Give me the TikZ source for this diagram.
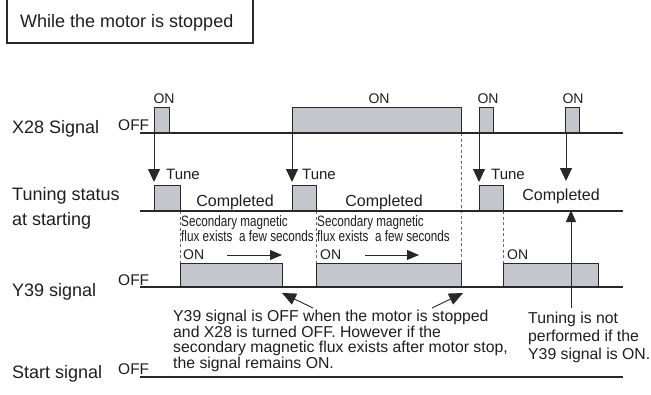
\documentclass[tikz,border=0pt]{standalone}
\usepackage{fontspec}
\setmainfont{Liberation Sans}
\newfontfamily\narrowfont[FakeStretch=0.78]{Liberation Sans}
\usetikzlibrary{arrows.meta}
\definecolor{signalgray}{RGB}{195,198,205}
\definecolor{signalline}{RGB}{40,40,40}
\definecolor{guidegray}{RGB}{105,105,105}
\definecolor{textdark}{RGB}{30,30,30}

\begin{document}
\begin{tikzpicture}[x=1pt,y=-1pt,line join=miter,
  every node/.style={text=textdark,inner sep=0pt},
  rowlabel/.style={font=\fontsize{18}{25.5}\selectfont,anchor=base west,align=left},
  offlabel/.style={font=\fontsize{15.5}{17}\selectfont,anchor=base west},
  onlabel/.style={font=\fontsize{14}{16}\selectfont,anchor=base},
  tunelabel/.style={font=\fontsize{15}{17}\selectfont,anchor=base west},
  donelabel/.style={font=\fontsize{16}{18}\selectfont,anchor=base},
  fluxlabel/.style={font=\narrowfont\fontsize{15}{15}\selectfont,anchor=base west,align=left},
  note/.style={font=\fontsize{15.8}{14.7}\selectfont,anchor=base west,align=left},
  pulse/.style={fill=signalgray,draw=signalline,line width=.9pt},
  level/.style={draw=signalline,line width=1.3pt},
  guide/.style={draw=guidegray,line width=.8pt,dash pattern=on 3pt off 2.5pt},
  trigger/.style={draw=signalline,line width=.9pt,-{Triangle[width=12pt,length=13pt]}},
  fluxarrow/.style={draw=signalline,line width=.9pt,-{Triangle[width=10pt,length=12pt]}},
  pointer/.style={draw=signalline,line width=.9pt,-{Triangle[width=12pt,length=14pt]}}]
\useasboundingbox (0,0) rectangle (651,394);
% Ramka z opisem trybu pracy.
\node[font=\fontsize{18}{20}\selectfont,anchor=base west] (mode) at (20,27) {While the motor is stopped};
\draw[draw=signalline,line width=1.6pt] (7,-4) rectangle (253,43);
% Etykiety przebiegów (wiele wierszy: kotwica na ostatnim wierszu).
\node[rowlabel] (x28) at (12,133) {X28 Signal};
\node[rowlabel] (tuning) at (12,225.7) {Tuning status\\at starting};
\node[rowlabel] (y39) at (12,296.5) {Y39 signal};
\node[rowlabel] (start) at (12,378) {Start signal};
\node[offlabel] (x28off) at (118,130) {OFF};
\node[offlabel] (y39off) at (118,285) {OFF};
\node[offlabel] (startoff) at (118,374) {OFF};
% Impulsy X28 i statusu strojenia.
\draw[pulse] (154,107) rectangle (169,133);
\draw[pulse] (292,107) rectangle (461,133);
\draw[pulse] (479,107) rectangle (493,133);
\draw[pulse] (565,107) rectangle (579,133);
\node[onlabel] (x28on1) at (164,103) {ON};
\node[onlabel] (x28on2) at (379,103) {ON};
\node[onlabel] (x28on3) at (488,103) {ON};
\node[onlabel] (x28on4) at (573,103) {ON};
\draw[pulse] (154,185) rectangle (180,211);
\draw[pulse] (292,185) rectangle (316,211);
\draw[pulse] (479,185) rectangle (503,211);
\node[tunelabel] (tune1) at (166,179) {Tune};
\node[tunelabel] (tune2) at (302,179) {Tune};
\node[tunelabel] (tune3) at (491,179) {Tune};
\node[donelabel] (done1) at (235,206) {Completed};
\node[donelabel] (done2) at (384,206) {Completed};
\node[donelabel] (done3) at (561,200.5) {Completed};
% Impulsy Y39 i strumień szczątkowy.
\draw[pulse] (180,263) rectangle (282,287);
\draw[pulse] (316,263) rectangle (461,287);
\draw[pulse] (503,263) rectangle (598,287);
\node[fluxlabel] (flux1) at (181,241.7) {Secondary magnetic\\flux exists\ \ a few seconds};
\node[fluxlabel] (flux2) at (317,241.7) {Secondary magnetic\\flux exists\ \ a few seconds};
\node[onlabel,anchor=base west] (y39on1) at (183,259) {ON};
\node[onlabel,anchor=base west] (y39on2) at (320,259) {ON};
\node[onlabel,anchor=base west] (y39on3) at (507,259) {ON};
\draw[guide] (180,211) -- (180,263);
\draw[guide] (316,211) -- (316,263);
\draw[guide] (461,133) -- (461,263);
\draw[guide] (503,211) -- (503,263);
% Poziomy sygnałów.
\draw[level] (140,133) -- (623,133);
\draw[level] (140,211) -- (623,211);
\draw[level] (140,287) -- (623,287);
\draw[level] (140,377) -- (623,377);
% Strzałki.
\coordinate (x28a) at (154,133); \coordinate (tunea) at (154,182);
\coordinate (x28b) at (292,133); \coordinate (tuneb) at (292,182);
\coordinate (x28c) at (479,133); \coordinate (tunec) at (479,182);
\coordinate (x28d) at (566,133); \coordinate (tuned) at (566,181);
\draw[trigger] (x28a) -- (tunea);
\draw[trigger] (x28b) -- (tuneb);
\draw[trigger] (x28c) -- (tunec);
\draw[trigger] (x28d) -- (tuned);
\coordinate (fluxa) at (227,255); \coordinate (fluxaend) at (282,255);
\coordinate (fluxb) at (365,255); \coordinate (fluxbend) at (419,255);
\draw[fluxarrow] (fluxa) -- (fluxaend);
\draw[fluxarrow] (fluxb) -- (fluxbend);
% Objaśnienia.
\node[note] (offnote) at (173,368) {Y39 signal is OFF when the motor is stopped\\and X28 is turned OFF. However if the\\secondary magnetic flux exists after motor stop,\\the signal remains ON.};
\node[note,font=\fontsize{15.8}{17.8}\selectfont] (skipnote) at (528,359) {Tuning is not\\performed if the\\Y39 signal is ON.};
\coordinate (notea) at (313,308); \coordinate (y39enda) at (282,293);
\coordinate (noteb) at (432,308); \coordinate (y39endb) at (463,293);
\draw[pointer] (notea) -- (y39enda);
\draw[pointer] (noteb) -- (y39endb);
\coordinate (skip) at (571,308); \coordinate (tunedone) at (571,210);
\draw[fluxarrow] (skip) -- (tunedone);
\end{tikzpicture}
\end{document}
